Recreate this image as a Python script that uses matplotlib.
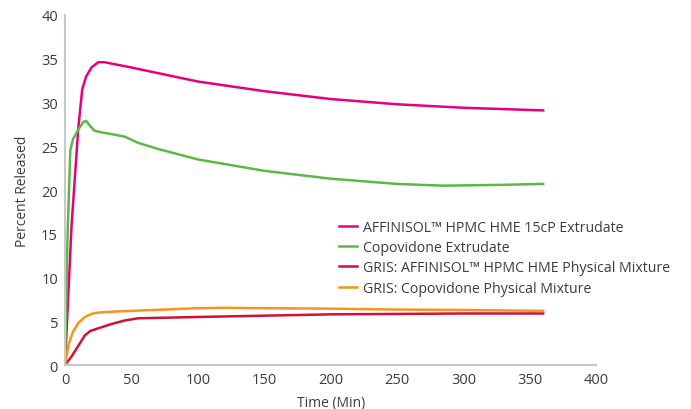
import matplotlib.pyplot as plt

plt.rcParams['font.family'] = ['Open Sans', 'DejaVu Sans']

# values
t_pink = [0, 5, 10, 13, 16, 20, 25, 30, 40, 50, 75, 100, 150, 200, 250, 300, 360]
pink = [0, 16, 27, 31.5, 33.0, 34.0, 34.6, 34.6, 34.3, 34.0, 33.2, 32.4, 31.3, 30.4, 29.8, 29.4, 29.1]

t_green = [0, 2, 4, 6, 10, 14, 16, 18, 22, 27, 35, 45, 55, 70, 100, 150, 200, 250, 285, 330, 360]
green = [0, 15, 24.5, 25.8, 26.9, 27.8, 27.9, 27.5, 26.8, 26.6, 26.4, 26.1, 25.4, 24.7, 23.5, 22.2, 21.3, 20.7, 20.5, 20.6, 20.7]

t_red = [0, 5, 10, 15, 19, 25, 35, 45, 55, 100, 150, 200, 250, 300, 360]
red = [0, 1.0, 2.2, 3.4, 3.9, 4.2, 4.7, 5.1, 5.35, 5.5, 5.65, 5.8, 5.85, 5.9, 5.9]

t_orange = [0, 3, 6, 10, 15, 20, 25, 35, 50, 75, 100, 120, 150, 200, 250, 300, 360]
orange = [0, 2.5, 3.8, 4.8, 5.5, 5.85, 6.0, 6.1, 6.2, 6.35, 6.5, 6.55, 6.5, 6.45, 6.35, 6.3, 6.2]

labels = ['AFFINISOL\u2122 HPMC HME 15cP Extrudate',
          'Copovidone Extrudate',
          'GRIS: AFFINISOL\u2122 HPMC HME Physical Mixture',
          'GRIS: Copovidone Physical Mixture']
colors = ['#E6007E', '#5DB847', '#D0103A', '#F7941D']

text_color = '#3C3C3C'

fig = plt.figure(figsize=(6.91, 4.10), dpi=100)
ax = fig.add_axes([0.094, 0.107, 0.769, 0.854])

series = [(t_pink, pink), (t_green, green), (t_red, red), (t_orange, orange)]
for (x, y), lab, c in zip(series, labels, colors):
    ax.plot(x, y, color=c, lw=1.8, label=lab, solid_joinstyle='round')

ax.set_xlim(0, 400)
ax.set_ylim(0, 40)
ax.set_xticks(range(0, 401, 50))
ax.set_yticks(range(0, 41, 5))
ax.tick_params(length=0, labelsize=10.5, colors=text_color, pad=5)
for s in ['top', 'right']:
    ax.spines[s].set_visible(False)
for s in ['left', 'bottom']:
    ax.spines[s].set_color('#C8C8C8')
    ax.spines[s].set_linewidth(1.5)

ax.set_xlabel('Time (Min)', fontsize=10, color=text_color, labelpad=6)
ax.set_ylabel('Percent Released', fontsize=10, color=text_color, labelpad=8)

leg = ax.legend(loc='upper left', bbox_to_anchor=(0.505, 0.43), frameon=False,
                fontsize=10.2, handlelength=1.3, handletextpad=0.4,
                labelspacing=0.36, borderaxespad=0)
for txt in leg.get_texts():
    txt.set_color(text_color)

fig.savefig('out.png', dpi=100)
